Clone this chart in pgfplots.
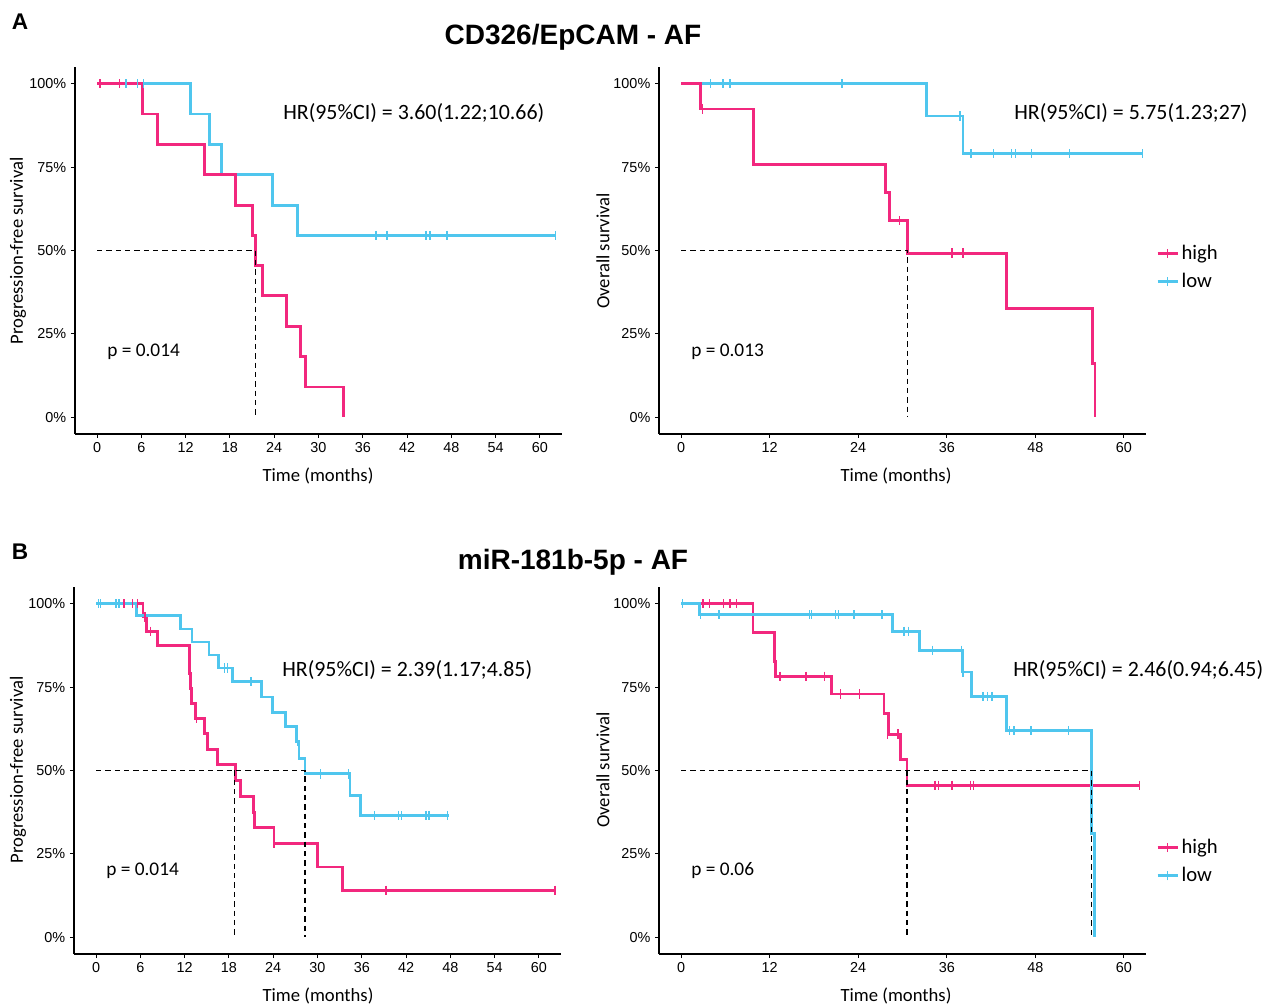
\documentclass[border=0pt]{standalone}
\usepackage{fontspec}
\setmainfont{Carlito}
\newfontfamily\arialf{Liberation Sans}
\usepackage{pgfplots}
\pgfplotsset{compat=1.18}

\definecolor{kmpink}{HTML}{F2287E}
\definecolor{kmblue}{HTML}{4FC6EE}

\pgfplotsset{
  km/.style={
    width=365.25bp, height=275.25bp, scale only axis,
    anchor=south west,
    xmin=-3, xmax=63, ymin=-0.05, ymax=1.05,
    axis x line*=bottom, axis y line*=left,
    axis line style={-, line width=0.8bp, black},
    tick align=outside, major tick length=3bp,
    tick style={line width=0.8bp, black},
    ytick={0,0.25,0.5,0.75,1},
    yticklabels={0\%,25\%,50\%,75\%,100\%},
    /pgf/number format/assume math mode=true,
    tick label style={font=\arialf\fontsize{10.8bp}{12bp}\selectfont},
  },
  six/.style={xtick={0,6,...,60}},
  twelve/.style={xtick={0,12,...,60}},
  pinkline/.style={kmpink, line width=2.1bp, const plot},
  blueline/.style={kmblue, line width=2.1bp, const plot},
  pinkcens/.style={kmpink, only marks, mark=|, mark size=3.5bp, mark options={line width=1.1bp}},
  bluecens/.style={kmblue, only marks, mark=|, mark size=3.5bp, mark options={line width=1.1bp}},
  med/.style={black, line width=0.85bp, dash pattern=on 4bp off 3bp},
  kmlegend/.style={
    legend style={at={#1}, anchor=west, draw=none, fill=none,
      font=\fontsize{15.5bp}{18bp}\selectfont, row sep=5bp,
      /tikz/every even column/.append style={column sep=7bp}},
    legend cell align=left,
    legend image code/.code={
      \draw[##1, line width=2.1bp] (0bp,0bp) -- (15bp,0bp);
      \draw[##1, line width=1.1bp] (7.5bp,-3.5bp) -- (7.5bp,3.5bp);}
  },
}

\begin{document}
\begin{tikzpicture}
\useasboundingbox (0bp,0bp) rectangle (949.5bp,753bp);

%% A left: progression-free survival
\begin{axis}[km, six, at={(56.25bp,427.5bp)}]
\addplot[blueline] coordinates {(0,1)(12.7,0.909)(15.2,0.818)(16.8,0.727)(23.8,0.636)(27.1,0.545)(62.1,0.545)};
\addplot[bluecens] coordinates {(3.9,1)(5.5,1)(6.3,1)(37.8,0.545)(39.3,0.545)(44.6,0.545)(45.1,0.545)(47.4,0.545)(62.1,0.545)};
\addplot[pinkline] coordinates {(0,1)(6.2,0.909)(8.2,0.818)(14.5,0.727)(18.8,0.636)(21.1,0.545)(21.5,0.455)(22.4,0.364)(25.7,0.273)(27.6,0.182)(28.2,0.091)(33.4,0)};
\addplot[pinkcens] coordinates {(0.4,1)(3.0,1)};
\addplot[med] coordinates {(0,0.5)(21.5,0.5)(21.5,0)};
\end{axis}

%% A right: overall survival
\begin{axis}[km, twelve, at={(494.25bp,427.5bp)}, kmlegend={(1.012,0.454)}]
\addlegendimage{kmpink}\addlegendentry{high}
\addlegendimage{kmblue}\addlegendentry{low}
\addplot[blueline, forget plot] coordinates {(0,1)(33.2,0.903)(38.2,0.790)(62.5,0.790)};
\addplot[bluecens, forget plot] coordinates {(4.0,1)(5.7,1)(6.6,1)(21.8,1)(37.8,0.903)(39.3,0.79)(42.3,0.79)(44.8,0.79)(45.3,0.79)(47.5,0.79)(52.6,0.79)(62.5,0.79)};
\addplot[pinkline, forget plot] coordinates {(0,1)(2.6,0.924)(9.8,0.758)(27.7,0.673)(28.2,0.589)(30.7,0.492)(44.1,0.327)(55.8,0.162)(56.1,0)};
\addplot[pinkcens, forget plot] coordinates {(2.9,0.924)(29.6,0.589)(36.7,0.492)(38.2,0.492)};
\addplot[med, forget plot] coordinates {(0,0.5)(30.7,0.5)(30.7,0)};
\end{axis}

%% B left: progression-free survival
\begin{axis}[km, six, at={(55.5bp,37.5bp)}]
\addplot[pinkline] coordinates {(0,1)(6.35,0.960)(6.8,0.917)(8.3,0.875)(12.6,0.832)(12.7,0.79)(12.8,0.746)(12.9,0.702)(13.5,0.657)(14.7,0.610)(15.1,0.562)(16.4,0.519)(18.9,0.469)(19.6,0.421)(21.3,0.375)(21.5,0.328)(24.1,0.281)(30.0,0.211)(33.4,0.141)(62.2,0.141)};
\addplot[pinkcens] coordinates {(3.8,1)(4.9,1)(5.6,1)(6.6,0.960)(7.4,0.917)(13.6,0.657)(24.1,0.281)(39.3,0.141)(62.2,0.141)};
\addplot[blueline] coordinates {(0,1)(5.5,0.964)(11.4,0.924)(13.0,0.885)(15.3,0.846)(16.6,0.807)(18.5,0.767)(22.4,0.720)(23.9,0.674)(25.7,0.631)(27.2,0.586)(27.5,0.536)(28.3,0.490)(34.4,0.426)(35.8,0.365)(47.8,0.365)};
\addplot[bluecens] coordinates {(0.3,1)(0.6,1)(2.7,1)(3.1,1)(17.4,0.807)(17.8,0.807)(21.0,0.767)(27.3,0.586)(30.4,0.49)(34.2,0.49)(37.7,0.365)(41.0,0.365)(41.4,0.365)(44.7,0.365)(45.1,0.365)(47.6,0.365)};
\addplot[med] coordinates {(0,0.5)(28.3,0.5)(28.3,0)};
\addplot[med] coordinates {(18.8,0.5)(18.8,0)};
\end{axis}

%% B right: overall survival
\begin{axis}[km, twelve, at={(494.25bp,37.5bp)}, kmlegend={(1.012,0.252)}]
\addlegendimage{kmpink}\addlegendentry{high}
\addlegendimage{kmblue}\addlegendentry{low}
\addplot[pinkline, forget plot] coordinates {(0,1)(9.75,0.914)(12.7,0.827)(12.8,0.782)(20.4,0.729)(27.5,0.670)(28.1,0.609)(29.7,0.532)(30.6,0.456)(62.1,0.456)};
\addplot[pinkcens, forget plot] coordinates {(2.95,1)(3.85,1)(5.75,1)(6.6,1)(7.5,1)(13.4,0.782)(16.9,0.782)(19.4,0.782)(21.6,0.729)(24.2,0.729)(28.0,0.609)(29.4,0.609)(34.4,0.456)(34.9,0.456)(36.7,0.456)(39.2,0.456)(39.6,0.456)(62.1,0.456)};
\addplot[blueline, forget plot] coordinates {(0,1)(2.45,0.967)(28.6,0.917)(32.3,0.860)(38.1,0.795)(39.4,0.722)(44.1,0.619)(55.6,0.311)(56.0,0)};
\addplot[bluecens, forget plot] coordinates {(0.2,1)(2.6,0.967)(5.1,0.967)(17.4,0.967)(17.7,0.967)(20.9,0.967)(21.3,0.967)(23.4,0.967)(27.2,0.967)(30.2,0.917)(30.8,0.917)(34.1,0.86)(38.0,0.86)(38.2,0.795)(40.9,0.722)(41.5,0.722)(42.1,0.722)(44.5,0.619)(45.1,0.619)(47.4,0.619)(52.5,0.619)};
\addplot[med, forget plot] coordinates {(0,0.5)(55.6,0.5)(55.6,0)};
\addplot[med, forget plot] coordinates {(30.6,0.5)(30.6,0)};
\end{axis}

\begin{scope}[x=0.75bp,y=0.75bp]
% panel letters and titles
\node[font=\arialf\bfseries\fontsize{17bp}{20bp}\selectfont] at (20,982) {A};
\node[font=\arialf\bfseries\fontsize{17bp}{20bp}\selectfont] at (20,452) {B};
\node[font=\arialf\bfseries\fontsize{21bp}{24bp}\selectfont] at (573,967) {CD326/EpCAM - AF};
\node[font=\arialf\bfseries\fontsize{21bp}{24bp}\selectfont] at (573,442) {miR-181b-5p - AF};

% axis titles
\begin{scope}[every node/.style={font=\fontsize{14bp}{16bp}\selectfont}]
\node at (318,528) {Time (months)};
\node at (896,528) {Time (months)};
\node at (318,8) {Time (months)};
\node at (896,8) {Time (months)};
\node[rotate=90] at (18,753) {Progression-free survival};
\node[rotate=90] at (603,753) {Overall survival};
\node[rotate=90] at (18,234) {Progression-free survival};
\node[rotate=90] at (603,234) {Overall survival};
\end{scope}

% HR and p annotations
\begin{scope}[every node/.style={anchor=west, inner sep=0pt, font=\fontsize{16.4bp}{19bp}\selectfont}]
\node at (283,891) {HR(95\%CI) = 3.60(1.22;10.66)};
\node at (1014,891) {HR(95\%CI) = 5.75(1.23;27)};
\node at (282,334) {HR(95\%CI) = 2.39(1.17;4.85)};
\node at (1013,334) {HR(95\%CI) = 2.46(0.94;6.45)};
\end{scope}
\begin{scope}[every node/.style={anchor=west, inner sep=0pt, font=\fontsize{14.5bp}{17bp}\selectfont}]
\node at (107,652) {p = 0.014};
\node at (691,652) {p = 0.013};
\node at (106,133) {p = 0.014};
\node at (691,133) {p = 0.06};
\end{scope}
\end{scope}
\end{tikzpicture}
\end{document}
